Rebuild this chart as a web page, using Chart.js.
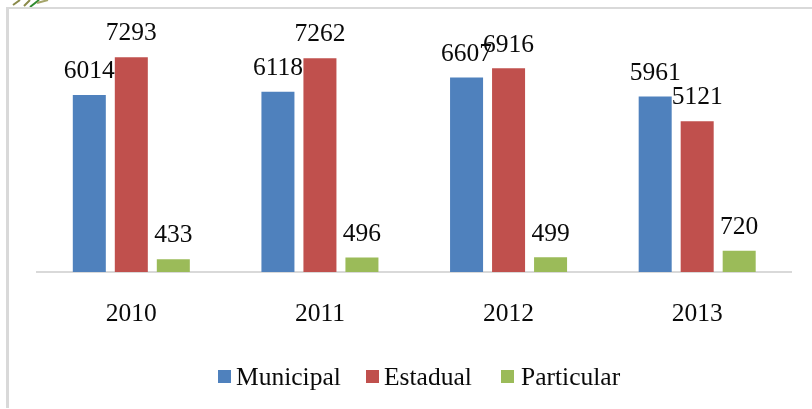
<!DOCTYPE html>
<html>
<head>
<meta charset="utf-8">
<script src="https://cdn.jsdelivr.net/npm/chart.js@4"></script>
<style>
  html, body { margin: 0; padding: 0; background: #fff; }
  #wrap { position: relative; width: 812px; height: 409px; overflow: hidden; }
  #frame { position: absolute; left: 6px; top: 7px; width: 806px; height: 401px;
           border-left: 3px solid #d9d9d9; border-top: 2px solid #d9d9d9; box-sizing: border-box; }
  #sprig { position: absolute; left: 12px; top: 0; }
  canvas { position: absolute; left: 0; top: 0; }
</style>
</head>
<body>
<div id="wrap">
  <div id="frame"></div>
  <!-- trozo de planta recortado arriba a la izquierda -->
  <svg id="sprig" width="38" height="7">
    <path d="M1 5 L8 0 M12 6 L18 0" stroke="#8a8a4a" stroke-width="2" fill="none"/>
    <path d="M18 7 L27 0" stroke="#2e8b2e" stroke-width="2" fill="none"/>
    <path d="M25 3 L36 0" stroke="#a5a56a" stroke-width="2" fill="none"/>
  </svg>
  <canvas id="chart" width="812" height="409"></canvas>
</div>
<script>
/* datos */
const years = ['2010', '2011', '2012', '2013'];
const municipal = [6014, 6118, 6607, 5961];
const estadual = [7293, 7262, 6916, 5121];
const particular = [433, 496, 499, 720];

const FONT = '"Liberation Serif", "Times New Roman", serif';
const TEXT_COLOR = '#0a0a0a';

/* etiquetas encima de cada barra */
const valueLabels = {
  id: 'valueLabels',
  afterDatasetsDraw(chart) {
    const { ctx } = chart;
    ctx.save();
    ctx.font = '25.5px ' + FONT;
    ctx.fillStyle = TEXT_COLOR;
    ctx.textAlign = 'center';
    ctx.textBaseline = 'middle';
    chart.data.datasets.forEach((ds, i) => {
      chart.getDatasetMeta(i).data.forEach((bar, j) => {
        ctx.fillText(ds.data[j], bar.x, bar.y - 23.5);
      });
    });
    ctx.restore();
  }
};

/* leyenda: el texto queda más pegado al cuadro que en la de Chart.js */
const legendSpots = [218, 366, 501];
const legendGaps = [18, 18, 20];
const tightLegend = {
  id: 'tightLegend',
  afterDraw(chart) {
    const { ctx } = chart;
    ctx.save();
    ctx.font = '25.5px ' + FONT;
    ctx.textBaseline = 'middle';
    chart.data.datasets.forEach((ds, i) => {
      ctx.fillStyle = ds.backgroundColor;
      ctx.fillRect(legendSpots[i], 370, 13, 13);
      ctx.fillStyle = TEXT_COLOR;
      ctx.fillText(ds.label, legendSpots[i] + legendGaps[i], 378);
    });
    ctx.restore();
  }
};

new Chart(document.getElementById('chart'), {
  type: 'bar',
  data: {
    labels: years,
    datasets: [
      { label: 'Municipal', data: municipal, backgroundColor: '#4f81bd' },
      { label: 'Estadual', data: estadual, backgroundColor: '#c0504d' },
      { label: 'Particular', data: particular, backgroundColor: '#9bbb59' }
    ]
  },
  options: {
    responsive: false,
    animation: false,
    layout: { padding: { left: 37, right: 20.5, top: 7, bottom: 0 } },
    categoryPercentage: 0.668,
    barPercentage: 0.786,
    plugins: {
      legend: { display: false },
      tooltip: { enabled: false }
    },
    scales: {
      x: {
        grid: { display: false, drawTicks: false },
        border: { color: '#d9d9d9', width: 2 },
        ticks: {
          color: TEXT_COLOR,
          padding: 27,
          maxRotation: 0,
          font: { family: FONT, size: 25.5 }
        },
        afterFit(scale) { scale.height = 137; }
      },
      y: { display: false, min: 0, max: 9000 }
    }
  },
  plugins: [valueLabels, tightLegend]
});
</script>
</body>
</html>
